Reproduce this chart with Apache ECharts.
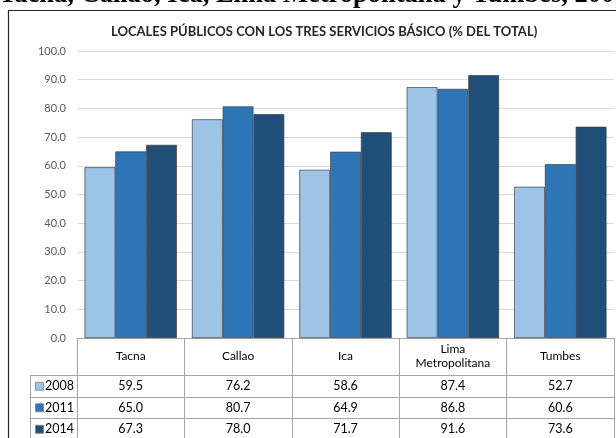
<!DOCTYPE html>
<html><head><meta charset="utf-8">
<script src="https://cdn.jsdelivr.net/npm/echarts@6/dist/echarts.min.js"></script>
<style>html,body{margin:0;padding:0;background:#fff}#c{width:616px;height:438px}</style>
</head><body><div id="c"></div>
<script>
const categories = ['Tacna', 'Callao', 'Ica', 'Lima\nMetropolitana', 'Tumbes'];
const years = ['2008', '2011', '2014'];
const v2008 = [59.5, 76.2, 58.6, 87.4, 52.7];
const v2011 = [65.0, 80.7, 64.9, 86.8, 60.6];
const v2014 = [67.3, 78.0, 71.7, 91.6, 73.6];
const seriesValues = [v2008, v2011, v2014];
const colors = ['#9dc3e6', '#2e75b6', '#1f4e79'];
const heading = 'Tacna, Callao, Ica, Lima Metropolitana y Tumbes, 2008';
const chartTitle = 'LOCALES PÚBLICOS CON LOS TRES SERVICIOS BÁSICO (% DEL TOTAL)';

const FONT = 'Lato, "Open Sans", sans-serif';
const lineCol = '#a6a6a6';
const chart = echarts.init(document.getElementById('c'), null, {renderer: 'canvas'});

chart.setOption({
  animation: false,
  backgroundColor: '#fff',
  title: {
    text: chartTitle, left: 106, top: 20,
    textStyle: {fontFamily: FONT, fontSize: 13, fontWeight: 'bold', color: '#262626'}
  },
  grid: {left: 77, right: 2, top: 51, bottom: 100, containLabel: false},
  xAxis: {
    type: 'category', data: categories,
    axisLine: {lineStyle: {color: lineCol, width: 1}},
    axisTick: {show: true, length: 101, lineStyle: {color: lineCol, width: 1}},
    axisLabel: {fontFamily: FONT, fontSize: 12, color: '#000', margin: 18, verticalAlign: 'middle', lineHeight: 14, interval: 0}
  },
  yAxis: {
    type: 'value', min: 0, max: 100, interval: 10,
    axisLine: {show: false}, axisTick: {show: false},
    axisLabel: {fontFamily: FONT, fontSize: 11, color: '#595959', margin: 11, formatter: v => v.toFixed(1)},
    splitLine: {lineStyle: {color: '#d9d9d9', width: 1}}
  },
  series: seriesValues.map((vals, i) => ({
    type: 'bar', name: years[i], data: vals,
    barGap: '0%', barCategoryGap: '14%',
    itemStyle: {color: colors[i], borderColor: '#404040', borderWidth: 0.7}
  }))
});

function buildTable() {
  const xs = categories.map((c, i) => chart.convertToPixel({xAxisIndex: 0}, i));
  const band = xs[1] - xs[0];
  const right = xs[xs.length - 1] + band / 2;
  const y0 = chart.convertToPixel({yAxisIndex: 0}, 0);
  const headBottom = y0 + 37;
  const rowH = 21.5;
  const legLeft = 30;
  const g = [];
  // heading (cut off at the top of the picture)
  g.push({type: 'text', x: -1, y: 8.5, style: {text: heading, font: 'bold 26.5px "Liberation Serif", "Times New Roman", serif', fill: '#000', textVerticalAlign: 'bottom', verticalAlign: 'bottom'}});
  // chart box
  g.push({type: 'rect', shape: {x: 8.5, y: 10.5, width: 700, height: 600}, style: {fill: null, stroke: '#262626', lineWidth: 1.2}, z: -1});
  // horizontal table lines
  for (let r = 0; r <= 3; r++) {
    const y = Math.round(headBottom + r * rowH) + 0.5;
    g.push({type: 'line', shape: {x1: legLeft, y1: y, x2: right, y2: y}, style: {stroke: lineCol, lineWidth: 1}});
  }
  g.push({type: 'line', shape: {x1: legLeft + 0.5, y1: headBottom, x2: legLeft + 0.5, y2: 440}, style: {stroke: lineCol, lineWidth: 1}});
  years.forEach((yr, r) => {
    const cy = headBottom + r * rowH + rowH / 2 + 0.5;
    g.push({type: 'rect', shape: {x: 35.5, y: cy - 4, width: 8, height: 8}, style: {fill: colors[r], stroke: '#7f7f7f', lineWidth: 0.8}});
    g.push({type: 'text', x: 45, y: cy, style: {text: yr, font: '12.5px ' + FONT, fill: '#000', textVerticalAlign: 'middle', verticalAlign: 'middle'}});
    seriesValues[r].forEach((v, i) => {
      g.push({type: 'text', x: xs[i], y: cy, style: {text: v.toFixed(1), font: '12.5px ' + FONT, fill: '#000', textAlign: 'center', align: 'center', textVerticalAlign: 'middle', verticalAlign: 'middle'}});
    });
  });
  chart.setOption({graphic: g});
}
buildTable();
</script></body></html>
